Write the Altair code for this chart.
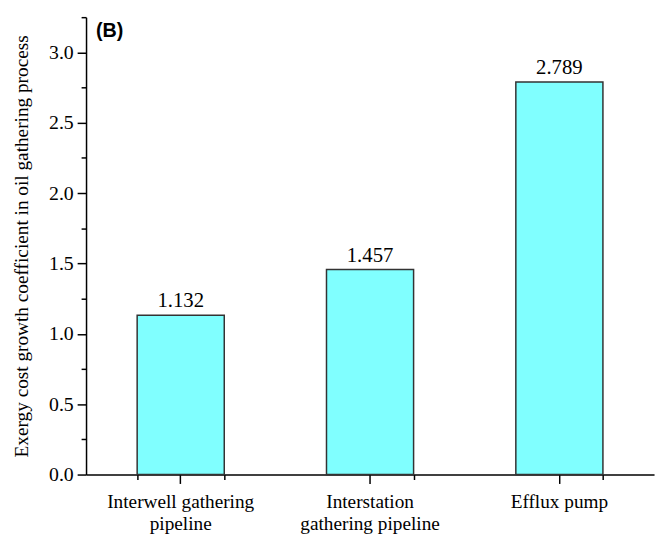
import altair as alt
import pandas as pd

categories = ["Interwell gathering\npipeline", "Interstation\ngathering pipeline", "Efflux pump"]
values = [1.132, 1.457, 2.789]
value_labels = ["1.132", "1.457", "2.789"]
y_tick_values = [0.0, 0.25, 0.5, 0.75, 1.0, 1.25, 1.5, 1.75, 2.0, 2.25, 2.5, 2.75, 3.0, 3.25]
y_title = "Exergy cost growth coefficient in oil gathering process"
panel_label = ["(B)"]

df = pd.DataFrame({"cat": categories, "val": values, "lbl": value_labels})
df_panel = pd.DataFrame({"t": panel_label})

SERIF = "Liberation Serif"

xscale = alt.Scale(domain=categories, paddingInner=0.54, paddingOuter=0.27)
yscale = alt.Scale(domain=[0, 3.25], nice=False, zero=True)

x_main_axis = alt.Axis(
    title=None, orient="bottom", labelAngle=0,
    labelExpr="split(datum.label, '\\n')",
    labelFont=SERIF, labelFontSize=19.5, labelColor="black",
    labelLineHeight=23, labelBaseline="top", labelPadding=9,
    ticks=True, tickSize=9, tickWidth=1.5, tickColor="black",
    domain=True, domainColor="black", domainWidth=1.5, grid=False,
)
x_minor_axis = alt.Axis(
    title=None, orient="bottom", labels=False, tickBand="extent",
    ticks=True, tickSize=5, tickWidth=1.5, tickColor="black",
    domain=False, grid=False,
)
y_axis = alt.Axis(
    title=y_title, values=y_tick_values,
    labelExpr="datum.value % 0.5 == 0 ? format(datum.value, '.1f') : ''",
    labelFont=SERIF, labelFontSize=20, labelColor="black", labelPadding=4,
    ticks=True,
    tickSize=alt.condition("datum.value % 0.5 == 0", alt.value(9), alt.value(5)),
    tickWidth=1.5, tickColor="black",
    domainColor="black", domainWidth=1.5, grid=False,
    titleFont=SERIF, titleFontSize=19.5, titleFontWeight="normal",
    titleColor="black", titlePadding=17,
)

bars = alt.Chart(df).mark_bar(
    color="#80FFFF", stroke="#333333", strokeWidth=1.5
).encode(
    x=alt.X("cat:N", scale=xscale, axis=x_main_axis, sort=categories),
    y=alt.Y("val:Q", scale=yscale, axis=y_axis),
)

texts = alt.Chart(df).mark_text(
    font=SERIF, fontSize=21, color="black", baseline="bottom", dy=-4
).encode(
    x=alt.X("cat:N", scale=xscale, sort=categories, axis=x_minor_axis),
    y=alt.Y("val:Q", scale=yscale, axis=y_axis),
    text="lbl:N",
)

panel = alt.Chart(df_panel).mark_text(
    font="Liberation Sans", fontWeight="bold", fontSize=20,
    align="left", baseline="middle", color="black"
).encode(x=alt.value(10), y=alt.value(14), text="t:N")

chart = alt.layer(bars, texts, panel).resolve_axis(x="independent").properties(
    width=575, height=463,
    padding={"left": 79, "top": 6, "right": 4, "bottom": 66},
    autosize="none",
).configure_view(stroke=None)

chart.save("out.html", embed_options={"renderer": "svg", "actions": False})
